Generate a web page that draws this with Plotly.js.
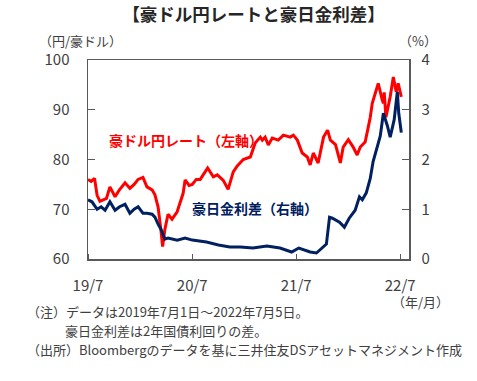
<!DOCTYPE html>
<html><head><meta charset="utf-8">
<script src="https://cdn.plot.ly/plotly-3.0.1.min.js"></script>
<style>html,body{margin:0;padding:0;background:#fff}#c{width:477px;height:381px}</style>
</head><body><div id="c"></div>
<script>
const audjpyDates = ["2019-07-01","2019-07-12","2019-07-24","2019-08-02","2019-08-12","2019-08-26","2019-09-04","2019-09-16","2019-09-28","2019-10-04","2019-10-18","2019-10-28","2019-11-08","2019-11-25","2019-12-10","2019-12-24","2020-01-10","2020-01-24","2020-02-11","2020-02-21","2020-03-03","2020-03-13","2020-03-19","2020-03-27","2020-04-07","2020-04-21","2020-05-09","2020-05-30","2020-06-06","2020-06-20","2020-07-01","2020-07-15","2020-07-29","2020-08-24","2020-09-13","2020-09-27","2020-10-18","2020-11-04","2020-11-22","2020-12-06","2020-12-27","2021-01-21","2021-02-07","2021-02-25","2021-03-04","2021-03-14","2021-03-25","2021-04-08","2021-04-29","2021-05-17","2021-06-10","2021-06-21","2021-07-05","2021-07-22","2021-08-09","2021-08-19","2021-08-30","2021-09-16","2021-10-05","2021-10-19","2021-10-29","2021-11-16","2021-12-03","2021-12-13","2021-12-31","2022-01-17","2022-01-31","2022-02-11","2022-02-18","2022-02-28","2022-03-11","2022-03-18","2022-03-25","2022-04-04","2022-04-15","2022-04-29","2022-05-03","2022-05-06","2022-05-12","2022-05-27","2022-06-07","2022-06-17","2022-06-24","2022-07-05"];
const audjpyValues = [76.0,75.6,76.2,72.8,71.6,72.0,72.2,74.5,73.0,72.5,73.8,74.5,75.3,74.2,75.0,76.0,76.4,74.5,73.9,72.9,70.5,65.8,62.5,66.0,69.0,68.0,69.5,73.2,75.9,74.8,75.0,76.0,76.0,78.3,76.5,76.9,75.8,74.0,77.5,78.7,80.0,80.5,83.3,84.5,83.9,84.5,82.9,84.3,83.9,84.9,84.5,84.9,83.9,81.3,80.5,78.9,81.3,79.3,84.5,85.9,83.9,83.0,79.3,82.5,84.0,82.5,80.9,82.5,82.9,83.5,86.5,88.5,91.3,93.3,95.3,92.0,91.3,93.5,88.5,92.6,96.6,93.6,95.3,92.6];

const spreadDates = ["2019-07-01","2019-07-15","2019-08-02","2019-08-16","2019-08-30","2019-09-16","2019-10-04","2019-10-20","2019-11-08","2019-11-25","2019-12-10","2019-12-24","2020-01-10","2020-01-24","2020-02-11","2020-02-21","2020-03-03","2020-03-13","2020-03-20","2020-03-27","2020-04-07","2020-05-09","2020-06-06","2020-07-01","2020-08-20","2020-10-01","2020-11-10","2020-12-17","2021-01-30","2021-03-20","2021-05-05","2021-06-15","2021-07-10","2021-08-19","2021-09-10","2021-09-30","2021-10-15","2021-10-26","2021-11-05","2021-11-30","2021-12-17","2022-01-03","2022-01-24","2022-02-08","2022-02-18","2022-03-04","2022-03-18","2022-03-28","2022-04-11","2022-04-22","2022-05-03","2022-05-17","2022-05-27","2022-06-10","2022-06-21","2022-06-26","2022-07-05"];
const spreadValues = [1.19,1.15,1.00,1.05,0.98,1.15,0.98,1.05,1.10,0.92,1.00,1.05,0.92,0.92,0.90,0.84,0.70,0.60,0.50,0.40,0.42,0.38,0.42,0.38,0.34,0.28,0.24,0.24,0.22,0.26,0.22,0.14,0.22,0.14,0.12,0.22,0.30,0.84,0.82,0.74,0.64,0.82,0.98,1.25,1.19,1.33,1.62,1.96,2.25,2.47,2.93,2.68,2.45,2.80,3.36,2.93,2.54];

const xTickVals = ["2019-07-01","2020-07-01","2021-07-01","2022-07-01"];
const xTickText = ["19/7","20/7","21/7","22/7"];
const yLeftTicks = [60,70,80,90,100];
const yRightTicks = [0,1,2,3,4];

const F = '"Noto Sans CJK JP", "Noto Sans", sans-serif';
const axisCol = '#595959';
const txtCol = '#404040';

const traces = [
  {x: audjpyDates, y: audjpyValues, type:'scatter', mode:'lines', name:'豪ドル円レート（左軸）',
   line:{color:'#ff0000', width:3}, yaxis:'y'},
  {x: spreadDates, y: spreadValues, type:'scatter', mode:'lines', name:'豪日金利差（右軸）',
   line:{color:'#002060', width:3}, yaxis:'y2'}
];

const ann = (text, x, y, size, color, anchor, bold) => ({
  text: bold ? '<b>'+text+'</b>' : text, xref:'paper', yref:'paper', x:x, y:y,
  xanchor: anchor || 'left', yanchor:'middle', showarrow:false, align:'left',
  font:{family:F, size:size, color:color}
});

const layout = {
  width:477, height:381,
  margin:{l:88, r:68, t:60, b:122},
  paper_bgcolor:'#fff', plot_bgcolor:'#fff',
  showlegend:false,
  font:{family:F, color:txtCol},
  title:{text:'<b>【豪ドル円レートと豪日金利差】</b>', x:0.516, xref:'paper', xanchor:'center',
    y:1-15/381, yref:'container', yanchor:'middle', font:{family:F, size:17.5, color:'#262626'}},
  xaxis:{type:'date', range:['2019-07-01','2022-08-01'], tickvals:xTickVals, ticktext:xTickText,
    ticks:'outside', ticklen:12, tickcolor:'rgba(0,0,0,0)', showgrid:false, zeroline:false,
    minor:{ticks:'inside', dtick:'M12', tick0:'2019-07-01', ticklen:5, tickcolor:axisCol, showgrid:false},
    showline:true, linecolor:axisCol, linewidth:1.5, mirror:true,
    tickfont:{family:F, size:15, color:txtCol}},
  yaxis:{range:[60,100], tickvals:yLeftTicks, ticks:'inside', ticklen:7, tickcolor:axisCol,
    showgrid:false, zeroline:false, showline:true, linecolor:axisCol, linewidth:1.5,
    tickfont:{family:F, size:15, color:txtCol}, ticklabelstandoff:14},
  yaxis2:{range:[0,4], tickvals:yRightTicks, overlaying:'y', side:'right', ticks:'inside', ticklen:7,
    tickcolor:axisCol, showgrid:false, zeroline:false, showline:true, linecolor:axisCol, linewidth:1.5,
    tickfont:{family:F, size:15, color:txtCol}, ticklabelstandoff:8},
  annotations:[
    ann('豪ドル円レート（左軸）', 0.059, 0.598, 14, '#ff0000', 'left', true),
    ann('豪日金利差（右軸）', 0.318, 0.256, 14, '#002060', 'left', true),
    ann('（円/豪ドル）', -0.160, 1.10, 13, txtCol),
    ann('（%）', 0.963, 1.10, 13, txtCol),
    ann('（年/月）', 0.941, -0.216, 13, txtCol),
    ann('（注）データは2019年7月1日～2022年7月5日。', -0.196, (259-311)/199, 13, txtCol),
    ann('豪日金利差は2年国債利回りの差。', -0.078, (259-330)/199, 13, txtCol),
    ann('（出所）Bloombergのデータを基に三井住友DSアセットマネジメント作成', -0.196, (259-349)/199, 13, txtCol)
  ]
};
Plotly.newPlot('c', traces, layout, {displayModeBar:false, staticPlot:true});
</script></body></html>
